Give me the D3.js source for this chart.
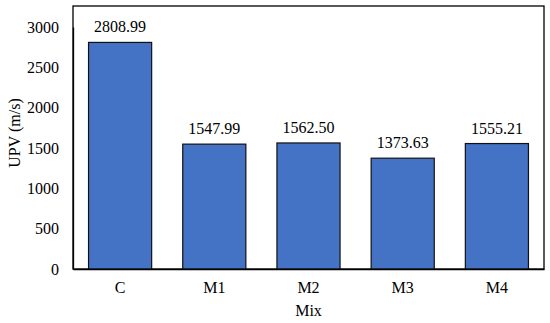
<!DOCTYPE html>
<html><head><meta charset="utf-8">
<script src="https://cdn.jsdelivr.net/npm/d3@7"></script>
<style>body{margin:0;background:#fff;} svg{display:block;}</style>
</head><body>
<script>
const categories = ["C", "M1", "M2", "M3", "M4"];
const values = [2808.99, 1547.99, 1562.50, 1373.63, 1555.21];
const valueLabels = ["2808.99", "1547.99", "1562.50", "1373.63", "1555.21"];
const yTicks = [0, 500, 1000, 1500, 2000, 2500, 3000];
const xTitle = "Mix";
const yTitle = "UPV (m/s)";

(function () {
const W = 550, H = 323;
const pL = 73, pR = 544, pT = 6, pB = 269;
const font = "'Liberation Serif','Times New Roman',serif";

const svg = d3.select("body").append("svg").attr("width", W).attr("height", H);

const x = d3.scaleBand().domain(categories).range([pL, pR]).paddingInner(0.33).paddingOuter(0.165);
const y = d3.scaleLinear().domain([0, 3000]).range([pB, 27]);

// frame
svg.append("rect").attr("x", pL).attr("y", pT).attr("width", pR - pL).attr("height", pB - pT)
  .attr("fill", "none").attr("stroke", "#000").attr("stroke-width", 1.3);

// bars
svg.selectAll("rect.bar").data(values).enter().append("rect").attr("class", "bar")
  .attr("x", (d, i) => x(categories[i]))
  .attr("width", x.bandwidth())
  .attr("y", d => y(d))
  .attr("height", d => pB - y(d))
  .attr("fill", "#4472C4").attr("stroke", "#111").attr("stroke-width", 1.2);

// value labels
svg.selectAll("text.val").data(values).enter().append("text").attr("class", "val")
  .attr("x", (d, i) => x(categories[i]) + x.bandwidth() / 2)
  .attr("y", d => y(d) - 10)
  .attr("text-anchor", "middle").attr("font-family", font).attr("font-size", 16).attr("fill", "#000")
  .text((d, i) => valueLabels[i]);

// y axis
const ya = d3.axisLeft(y).tickValues(yTicks).tickSize(0).tickPadding(14).tickFormat(d3.format("d"));
const gy = svg.append("g").attr("transform", `translate(${pL},0)`).call(ya);
gy.select(".domain").attr("stroke", "#000").attr("stroke-width", 1.3);
gy.selectAll("text").attr("font-family", font).attr("font-size", 16).attr("fill", "#000");

// x axis
const xa = d3.axisBottom(x).tickSize(0).tickPadding(13);
const gx = svg.append("g").attr("transform", `translate(0,${pB})`).call(xa);
gx.select(".domain").attr("stroke", "#000").attr("stroke-width", 1.3);
gx.selectAll("text").attr("font-family", font).attr("font-size", 16).attr("fill", "#000");

// titles
svg.append("text").attr("x", (pL + pR) / 2).attr("y", 316).attr("text-anchor", "middle")
  .attr("font-family", font).attr("font-size", 16).text(xTitle);
svg.append("text").attr("transform", `translate(20,133) rotate(-90)`).attr("text-anchor", "middle")
  .attr("font-family", font).attr("font-size", 16).text(yTitle);
})();
</script>
</body></html>
